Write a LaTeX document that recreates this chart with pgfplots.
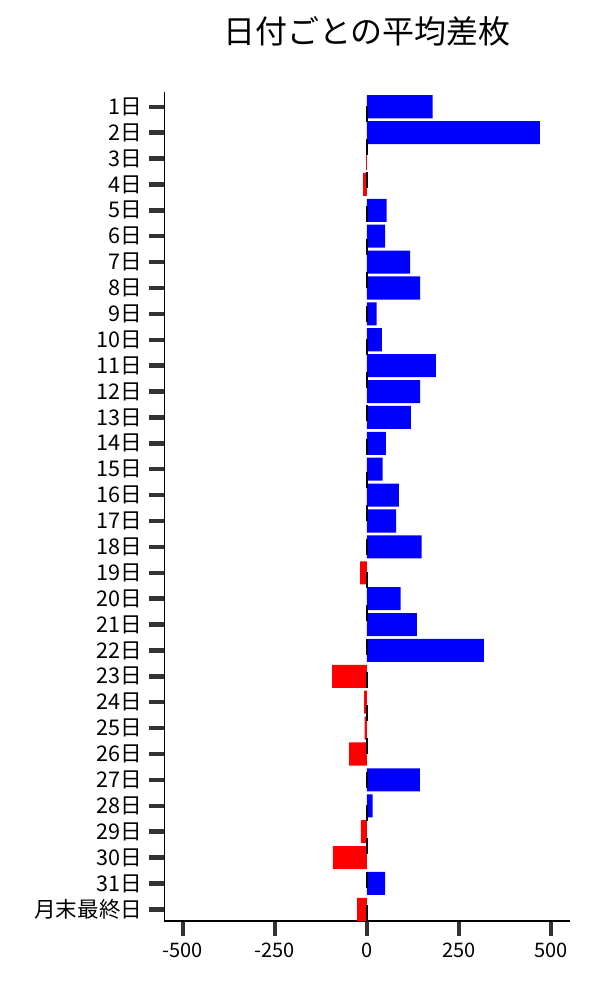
\documentclass[border=0pt]{standalone}
\usepackage{fontspec}
\setmainfont{Noto Sans CJK JP}
\usepackage{pgfplots}
\pgfplotsset{compat=1.18}
\definecolor{barblue}{RGB}{0,0,255}
\definecolor{barred}{RGB}{255,0,0}
\definecolor{tickgray}{RGB}{51,51,51}
\begin{document}
\begin{tikzpicture}
\path[use as bounding box] (-82.15pt,-39.5pt) rectangle (217.85pt,460.5pt);
\begin{axis}[
    at={(0,0)}, anchor=south west,
    scale only axis,
    width=202.85pt, height=414.5pt,
    xmin=-550, xmax=552,
    ymin=-0.45, ymax=31.57,
    axis x line*=bottom, axis y line*=left,
    axis line style={black, line width=0.75pt, -},
    xtick={-500,-250,0,250,500},
    ytick={0,...,31},
    yticklabels={月末最終日,31日,30日,29日,28日,27日,26日,25日,24日,23日,22日,21日,20日,19日,18日,17日,16日,15日,14日,13日,12日,11日,10日,9日,8日,7日,6日,5日,4日,3日,2日,1日},
    tick align=outside,
    major tick length=7.5pt,
    tick style={line width=2.2pt, color=tickgray},
    /pgf/number format/assume math mode=true,
    xticklabel style={font=\fontsize{10}{12}\selectfont},
    yticklabel style={font=\fontsize{10.8}{12}\selectfont},
    title={日付ごとの平均差枚},
    title style={at={(0.5,1)}, anchor=center, yshift=24.5pt, font=\fontsize{16}{19}\selectfont},
]
% positive means (blue)
\addplot[xbar, bar width=0.89, bar shift=0pt, fill=barblue, draw=none] coordinates {
    (179,31) (470,30) (54,27) (50,26) (118,25) (145,24) (27,23) (41,22)
    (188,21) (145,20) (120,19) (52,18) (43,17) (87,16) (80,15) (149,14)
    (92,12) (136,11) (318,10) (144,5) (16,4) (50,1)
};
% negative means (red)
\addplot[xbar, bar width=0.89, bar shift=0pt, fill=barred, draw=none] coordinates {
    (-2,29) (-10,28) (-18,13) (-94,9) (-7,8) (-6,7) (-48,6) (-16,3) (-92,2) (-26,0)
};
% zero line
\addplot[black, line width=1.25pt, dash pattern=on 8pt off 8.65pt] coordinates {(0,-0.45) (0,31.57)};
\end{axis}
\end{tikzpicture}
\end{document}
